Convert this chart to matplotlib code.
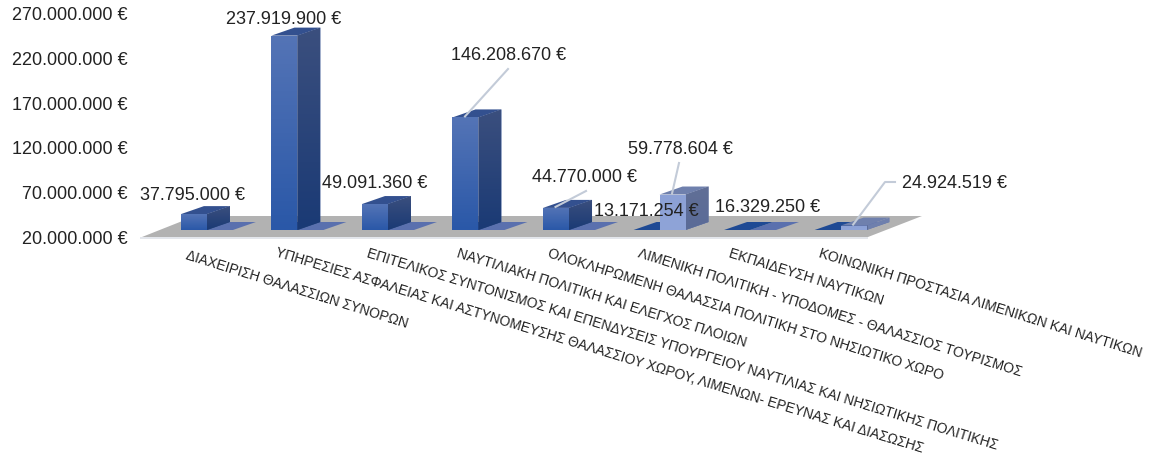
import numpy as np
import matplotlib
matplotlib.use('Agg')
import matplotlib.pyplot as plt
from matplotlib.patches import Polygon, Rectangle
from matplotlib.colors import LinearSegmentedColormap

plt.rcParams['font.family'] = ['Liberation Sans', 'DejaVu Sans']

categories = ['ΔΙΑΧΕΙΡΙΣΗ ΘΑΛΑΣΣΙΩΝ ΣΥΝΟΡΩΝ',
              'ΥΠΗΡΕΣΙΕΣ ΑΣΦΑΛΕΙΑΣ ΚΑΙ ΑΣΤΥΝΟΜΕΥΣΗΣ ΘΑΛΑΣΣΙΟΥ ΧΩΡΟΥ, ΛΙΜΕΝΩΝ- ΕΡΕΥΝΑΣ ΚΑΙ ΔΙΑΣΩΣΗΣ',
              'ΕΠΙΤΕΛΙΚΟΣ ΣΥΝΤΟΝΙΣΜΟΣ ΚΑΙ ΕΠΕΝΔΥΣΕΙΣ ΥΠΟΥΡΓΕΙΟΥ ΝΑΥΤΙΛΙΑΣ ΚΑΙ ΝΗΣΙΩΤΙΚΗΣ ΠΟΛΙΤΙΚΗΣ',
              'ΝΑΥΤΙΛΙΑΚΗ ΠΟΛΙΤΙΚΗ ΚΑΙ ΕΛΕΓΧΟΣ ΠΛΟΙΩΝ',
              'ΟΛΟΚΛΗΡΩΜΕΝΗ ΘΑΛΑΣΣΙΑ ΠΟΛΙΤΙΚΗ ΣΤΟ ΝΗΣΙΩΤΙΚΟ ΧΩΡΟ',
              'ΛΙΜΕΝΙΚΗ ΠΟΛΙΤΙΚΗ - ΥΠΟΔΟΜΕΣ - ΘΑΛΑΣΣΙΟΣ ΤΟΥΡΙΣΜΟΣ',
              'ΕΚΠΑΙΔΕΥΣΗ ΝΑΥΤΙΚΩΝ',
              'ΚΟΙΝΩΝΙΚΗ ΠΡΟΣΤΑΣΙΑ ΛΙΜΕΝΙΚΩΝ ΚΑΙ ΝΑΥΤΙΚΩΝ']
series_main = [37795000, 237919900, 49091360, 146208670, 44770000, 13171254, 16329250, 0]
series_second = [0, 0, 0, 0, 0, 59778604, 0, 24924519]
y_ticks = [20000000, 70000000, 120000000, 170000000, 220000000, 270000000]

W, H = 1151, 459
fig = plt.figure(figsize=(W/100, H/100), dpi=100)
L, R, T, B = 142, 868, 14, 237
ax = fig.add_axes([L/W, 1-B/H, (R-L)/W, (B-T)/H])
ax.set_ylim(y_ticks[0], y_ticks[-1])
ax.set_xlim(-0.43, 7.59)
for s in ax.spines.values():
    s.set_visible(False)
ax.patch.set_visible(False)

pxx = (ax.get_xlim()[1]-ax.get_xlim()[0])/(R-L)
pxy = (y_ticks[-1]-y_ticks[0])/(B-T)
bw = 26*pxx
dx, dy = 23*pxx, 8*pxy      # bar depth
oy = 7*pxy                  # bar set back from the floor front

x0, x1 = ax.get_xlim()
base = y_ticks[0]
ax.add_patch(Polygon([(x0, base), (x1, base), (x1+54*pxx, base+21*pxy), (x0+53*pxx, base+21*pxy)],
                     fc='#b2b2b2', ec='none', zorder=1, clip_on=False))
ax.add_patch(Rectangle((x0-2*pxx, base-2*pxy), x1-x0+2*pxx, 2*pxy, fc='#e3e6ec', ec='none', zorder=1, clip_on=False))

front_main = LinearSegmentedColormap.from_list('fm', ['#2a58a8', '#5474b6'])
side_main = LinearSegmentedColormap.from_list('sm', ['#1a3a75', '#3b4f7e'])
front_light = LinearSegmentedColormap.from_list('fl', ['#8fa4d8', '#8ca1d6'])
side_light = LinearSegmentedColormap.from_list('sl', ['#5a6b98', '#616f96'])
grad = np.linspace(0, 1, 128).reshape(-1, 1)


def draw(i, value, off, cmap, side_cmap, top_c, flat_c):
    left = i + off*pxx
    yb = base + oy
    ax.add_patch(Polygon([(left, yb), (left+bw, yb), (left+bw+dx, yb+dy), (left+dx, yb+dy)],
                         fc=flat_c, ec='none', zorder=2, clip_on=False))
    if value <= base:
        return
    h = value - base
    r = ax.bar(left, h, bw, bottom=yb, align='edge', color=top_c, zorder=3)[0]
    im = ax.imshow(grad, extent=(left, left+bw, yb, yb+h), origin='lower', cmap=cmap, aspect='auto', zorder=3.1)
    im.set_clip_path(r)
    side = Polygon([(left+bw, yb), (left+bw+dx, yb+dy), (left+bw+dx, yb+h+dy), (left+bw, yb+h)],
                   fc=top_c, ec='none', zorder=3, clip_on=False)
    ax.add_patch(side)
    im2 = ax.imshow(grad, extent=(left+bw, left+bw+dx, yb, yb+h+dy), origin='lower', cmap=side_cmap,
                    aspect='auto', zorder=3.1)
    im2.set_clip_path(side)
    ax.add_patch(Polygon([(left, yb+h), (left+bw, yb+h), (left+bw+dx, yb+h+dy), (left+dx, yb+h+dy)],
                         fc=top_c, ec='none', zorder=3, clip_on=False))


for i in range(len(categories)):
    draw(i, series_second[i], 26, front_light, side_light, '#6f80ad', '#5a70ae')
    draw(i, series_main[i], 0, front_main, side_main, '#33508f', '#1f4a94')

ax.set_xlim(x0, x1)
ax.set_ylim(y_ticks[0], y_ticks[-1])

fmt = lambda v: f'{v:,.0f} €'.replace(',', '.')
ax.set_yticks(y_ticks)
ax.set_yticklabels([fmt(v) for v in y_ticks], fontsize=13, color='#222222')
ax.tick_params(axis='y', length=0, pad=10.4)
ax.set_xticks([])


def lab(text, px, py):
    ax.annotate(text, xy=(px, H-py), xycoords='figure pixels', ha='center', va='center',
                fontsize=13, color='#222222', zorder=6, annotation_clip=False)


label_pos = {0: (193, 195), 1: (284, 20), 2: (375, 184), 3: (509, 56), 4: (584, 178), 5: (646, 211), 6: (768, 207)}
for i, (xp, yp) in label_pos.items():
    lab(fmt(series_main[i]), xp, yp)
lab(fmt(series_second[5]), 680, 150)
lab(fmt(series_second[7]), 954, 183)

# leader lines, from the value label to the top of the bar
leaders = [
    (3, 0, series_main[3], [(508, 69)]),
    (4, 0, series_main[4], [(586, 191)]),
    (5, 26, series_second[5], [(679, 163)]),
    (7, 26, series_second[7], [(885, 182), (895, 182)]),
]
inv = ax.transData.inverted()
for i, off, v, pts in leaders:
    sx, sy = ax.transData.transform((i + off*pxx, v + oy))
    sx += 12.5
    sy += 1
    xy = [(sx, sy)] + [(p[0], H-p[1]) for p in pts]
    d = inv.transform(xy)
    ax.plot(d[:, 0], d[:, 1], color='#c3cbd8', lw=1.5, zorder=5, clip_on=False)
ax.set_xlim(x0, x1)

# category labels
starts = [(188, 248), (278, 246), (369, 246), (459, 246), (550, 246), (640, 246), (731, 246), (821, 246)]
rots = [-17.3, -16.9, -17.0, -17.3, -17.3, -17.3, -17.3, -17.3]
for i, name in enumerate(categories):
    ax.annotate(name, xy=(starts[i][0], H-starts[i][1]), xycoords='figure pixels', ha='left', va='top',
                rotation=rots[i], rotation_mode='anchor', fontsize=10, color='#222222', annotation_clip=False)

fig.savefig('out.png', dpi=100)
